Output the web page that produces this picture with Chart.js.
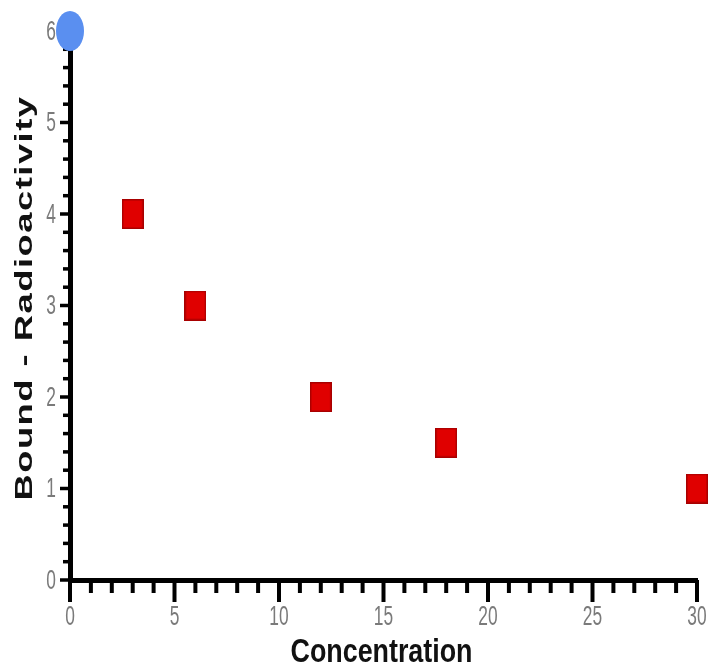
<!DOCTYPE html>
<html>
<head>
<meta charset="utf-8">
<script src="https://cdn.jsdelivr.net/npm/chart.js@4"></script>
<style>
  html, body { margin: 0; padding: 0; background: #fff; }
  #wrap { width: 711px; height: 671px; }
</style>
</head>
<body>
<div id="wrap"><canvas id="chart" width="711" height="671"></canvas></div>
<script>
// data
const concentration = [3, 6, 12, 18, 30];
const bound = [4, 3, 2, 1.5, 1];
const blankX = [0];
const blankY = [6];
const xTickLabels = [0, 5, 10, 15, 20, 25, 30];
const yTickLabels = [0, 1, 2, 3, 4, 5, 6];

function marker(w, h, fill, stroke, round) {
  const c = document.createElement('canvas');
  c.width = w;
  c.height = h;
  const g = c.getContext('2d');
  g.fillStyle = fill;
  g.strokeStyle = stroke;
  g.lineWidth = 1.5;
  if (round) {
    g.beginPath();
    g.ellipse(w / 2, h / 2, w / 2 - 1, h / 2 - 1, 0, 0, Math.PI * 2);
    g.fill();
  } else {
    g.fillRect(0, 0, w, h);
    g.strokeRect(0.75, 0.75, w - 1.5, h - 1.5);
  }
  return c;
}

const isWhole = v => Math.abs(v - Math.round(v)) < 1e-6;

// squeezed text, the original picture is stretched tall
function squeezed(ctx, text, x, y, sx, rotate) {
  ctx.save();
  ctx.translate(x, y);
  if (rotate) ctx.rotate(-Math.PI / 2);
  ctx.scale(sx, 1);
  ctx.fillText(text, 0, 0);
  ctx.restore();
}

// tick marks, tick labels and axis titles
const axisDecor = {
  id: 'axisDecor',
  beforeDatasetsDraw(chart) {
    const { ctx, scales: { x, y } } = chart;
    ctx.save();
    ctx.strokeStyle = '#000';
    ctx.lineWidth = 4;
    x.ticks.forEach(t => {
      const px = x.getPixelForValue(t.value);
      const len = t.label !== '' ? 22 : 13;
      ctx.beginPath();
      ctx.moveTo(px, y.bottom);
      ctx.lineTo(px, y.bottom + len);
      ctx.stroke();
    });
    ctx.lineWidth = 3.5;
    y.ticks.forEach(t => {
      const py = y.getPixelForValue(t.value);
      const len = t.label !== '' ? 10 : 7;
      ctx.beginPath();
      ctx.moveTo(x.left, py);
      ctx.lineTo(x.left - len, py);
      ctx.stroke();
    });

    ctx.fillStyle = '#7a7a7a';
    ctx.font = '28px "Liberation Sans", Arial, sans-serif';
    ctx.textBaseline = 'middle';
    ctx.textAlign = 'center';
    x.ticks.forEach(t => {
      if (t.label !== '') squeezed(ctx, t.label, x.getPixelForValue(t.value), y.bottom + 37, 0.62, false);
    });
    ctx.textAlign = 'right';
    y.ticks.forEach(t => {
      if (t.label !== '') squeezed(ctx, t.label, x.left - 14, y.getPixelForValue(t.value) + 1, 0.62, false);
    });

    ctx.fillStyle = '#111';
    ctx.textAlign = 'center';
    ctx.font = 'bold 34px "Liberation Sans", Arial, sans-serif';
    const xt = 'Concentration';
    squeezed(ctx, xt, (x.left + x.right) / 2 - 2, y.bottom + 73, 182 / ctx.measureText(xt).width, false);

    ctx.font = 'bold 24px "Liberation Sans", Arial, sans-serif';
    ctx.letterSpacing = '1px';
    const yt = 'Bound - Radioactivity';
    squeezed(ctx, yt, 25, 298, 405 / ctx.measureText(yt).width, true);
    ctx.restore();
  }
};

new Chart(document.getElementById('chart').getContext('2d'), {
  type: 'scatter',
  data: {
    datasets: [{
      data: concentration.map((c, i) => ({ x: c, y: bound[i] })),
      pointStyle: marker(22, 30, '#e00000', '#a80000', false),
      clip: false
    }, {
      data: blankX.map((c, i) => ({ x: c, y: blankY[i] })),
      pointStyle: marker(30, 42, '#5a8ff0', '#5a8ff0', true),
      clip: false
    }]
  },
  options: {
    responsive: false,
    animation: false,
    events: [],
    layout: {
      padding: { top: 31, right: 14, left: 0, bottom: 0 }
    },
    scales: {
      x: {
        type: 'linear',
        min: 0,
        max: 30,
        afterFit: s => { s.height = 91; },
        border: { display: true, color: '#000', width: 5 },
        grid: { display: false },
        ticks: {
          stepSize: 1,
          autoSkip: false,
          maxRotation: 0,
          color: 'rgba(0,0,0,0)',
          callback: v => (xTickLabels.includes(v) ? String(v) : '')
        }
      },
      y: {
        min: 0,
        max: 6,
        afterFit: s => { s.width = 70; },
        border: { display: true, color: '#000', width: 5 },
        grid: { display: false },
        ticks: {
          stepSize: 0.2,
          autoSkip: false,
          color: 'rgba(0,0,0,0)',
          callback: v => (isWhole(v) && yTickLabels.includes(Math.round(v)) ? String(Math.round(v)) : '')
        }
      }
    },
    plugins: {
      legend: { display: false },
      tooltip: { enabled: false }
    }
  },
  plugins: [axisDecor]
});
</script>
</body>
</html>
